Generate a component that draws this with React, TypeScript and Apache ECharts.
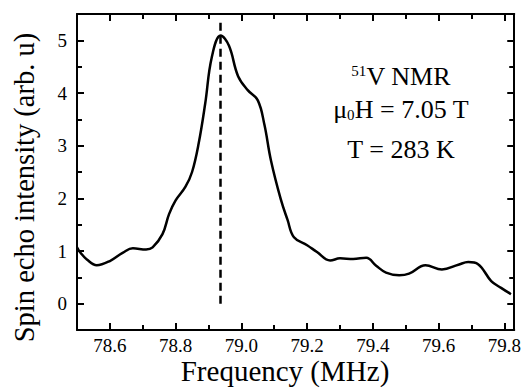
import React, { useEffect, useRef } from "react";
import * as echarts from "echarts";

const freq = [78.5, 78.51, 78.53, 78.56, 78.6, 78.64, 78.67, 78.71, 78.73, 78.76, 78.78, 78.8, 78.83, 78.85, 78.87, 78.89, 78.91, 78.937, 78.962, 78.99, 79.02, 79.05, 79.07, 79.09, 79.12, 79.14, 79.16, 79.2, 79.23, 79.27, 79.3, 79.34, 79.38, 79.41, 79.44, 79.48, 79.51, 79.56, 79.61, 79.66, 79.69, 79.72, 79.76, 79.79, 79.82];
const intensity = [1.07, 0.97, 0.84, 0.73, 0.81, 0.97, 1.05, 1.03, 1.07, 1.32, 1.7, 1.96, 2.22, 2.5, 3.04, 3.8, 4.68, 5.09, 4.9, 4.32, 4.05, 3.86, 3.4, 2.72, 1.98, 1.6, 1.26, 1.11, 0.98, 0.82, 0.86, 0.85, 0.87, 0.72, 0.59, 0.54, 0.57, 0.73, 0.65, 0.74, 0.79, 0.75, 0.43, 0.3, 0.18];

const xMajor = [78.6, 78.8, 79.0, 79.2, 79.4, 79.6, 79.8];
const xMinor = [78.7, 78.9, 79.1, 79.3, 79.5, 79.7];
const yMajor = [0, 1, 2, 3, 4, 5];
const yMinor = [0.5, 1.5, 2.5, 3.5, 4.5];

const peakFreq = 78.935;
const peakSpan = [0, 5.38];

const xRange = [78.5, 79.83];
const yRange = [-0.5, 5.5];

const FONT = "Liberation Serif";

export default function App() {
  const ref = useRef<HTMLDivElement>(null);
  useEffect(() => {
    if (!ref.current) return;
    document.body.style.margin = "0";
    const chart = echarts.init(ref.current, null, { renderer: "svg" });

    const mkX = (pos: string, ticks: number[], len: number, labels: boolean, line: boolean) => ({
      type: "value",
      position: pos,
      min: xRange[0],
      max: xRange[1],
      splitLine: { show: false },
      axisLine: { show: line, onZero: false, lineStyle: { color: "#000", width: 2 } },
      axisTick: { show: true, inside: true, length: len, customValues: ticks, lineStyle: { color: "#000", width: 2 } },
      axisLabel: {
        show: labels,
        customValues: ticks,
        margin: 6,
        color: "#000",
        fontFamily: FONT,
        fontSize: 19,
        formatter: (v: number) => v.toFixed(1),
      },
    });
    const mkY = (pos: string, ticks: number[], len: number, labels: boolean, line: boolean) => ({
      type: "value",
      position: pos,
      min: yRange[0],
      max: yRange[1],
      splitLine: { show: false },
      axisLine: { show: line, onZero: false, lineStyle: { color: "#000", width: 2 } },
      axisTick: { show: true, inside: true, length: len, customValues: ticks, lineStyle: { color: "#000", width: 2 } },
      axisLabel: {
        show: labels,
        customValues: ticks,
        margin: 10,
        color: "#000",
        fontFamily: FONT,
        fontSize: 19,
        formatter: (v: number) => String(v),
      },
    });

    chart.setOption({
      animation: false,
      backgroundColor: "#fff",
      textStyle: { fontFamily: FONT },
      grid: { left: 77, top: 14, right: 8, bottom: 58, containLabel: false },
      xAxis: [
        mkX("bottom", xMajor, 7, true, true),
        mkX("bottom", xMinor, 5, false, false),
        mkX("top", xMajor, 7, false, true),
        mkX("top", xMinor, 5, false, false),
      ],
      yAxis: [
        mkY("left", yMajor, 7, true, true),
        mkY("left", yMinor, 5, false, false),
        mkY("right", yMajor, 7, false, true),
        mkY("right", yMinor, 5, false, false),
      ],
      series: [
        {
          type: "line",
          xAxisIndex: 0,
          yAxisIndex: 0,
          data: freq.map((f, i) => [f, intensity[i]]),
          smooth: 0.4,
          showSymbol: false,
          symbol: "none",
          lineStyle: { color: "#000", width: 2.5 },
          markLine: {
            silent: true,
            symbol: ["none", "none"],
            label: { show: false },
            lineStyle: { color: "#000", width: 2.5, type: [8, 5] },
            data: [[{ coord: [peakFreq, peakSpan[0]] }, { coord: [peakFreq, peakSpan[1]] }]],
          },
        },
      ],
      graphic: [
        {
          type: "text",
          x: 401,
          y: 76.6,
          style: {
            text: "{s|51}{n|V NMR}",
            align: "center",
            verticalAlign: "middle",
            fill: "#000",
            fontFamily: FONT,
            rich: {
              s: { fontFamily: FONT, fontSize: 15, lineHeight: 15, verticalAlign: "top", padding: [0, 0, 18, 0], fill: "#000" },
              n: { fontFamily: FONT, fontSize: 26, lineHeight: 26, verticalAlign: "bottom", fill: "#000" },
            },
          },
        },
        {
          type: "text",
          x: 401,
          y: 109.5,
          style: {
            text: "{n|\u03bc}{b|0}{n|H = 7.05 T}",
            align: "center",
            verticalAlign: "middle",
            fill: "#000",
            fontFamily: FONT,
            rich: {
              b: { fontFamily: FONT, fontSize: 15, lineHeight: 15, verticalAlign: "bottom", padding: [17, 0, 0, 0], fill: "#000" },
              n: { fontFamily: FONT, fontSize: 26, lineHeight: 26, verticalAlign: "top", fill: "#000" },
            },
          },
        },
        {
          type: "text",
          x: 401,
          y: 149.5,
          style: { text: "T = 283 K", align: "center", verticalAlign: "middle", fontFamily: FONT, fontSize: 26, fill: "#000" },
        },
        {
          type: "text",
          x: 285,
          y: 371,
          style: { text: "Frequency (MHz)", align: "center", verticalAlign: "middle", fontFamily: FONT, fontSize: 29, fill: "#000" },
        },
        {
          type: "text",
          x: 24,
          y: 187.5,
          rotation: Math.PI / 2,
          style: { text: "Spin echo intensity (arb. u)", align: "center", verticalAlign: "middle", fontFamily: FONT, fontSize: 28.5, fill: "#000" },
        },
      ],
    });
    return () => chart.dispose();
  }, []);
  return <div ref={ref} style={{ width: 524, height: 388 }} />;
}
